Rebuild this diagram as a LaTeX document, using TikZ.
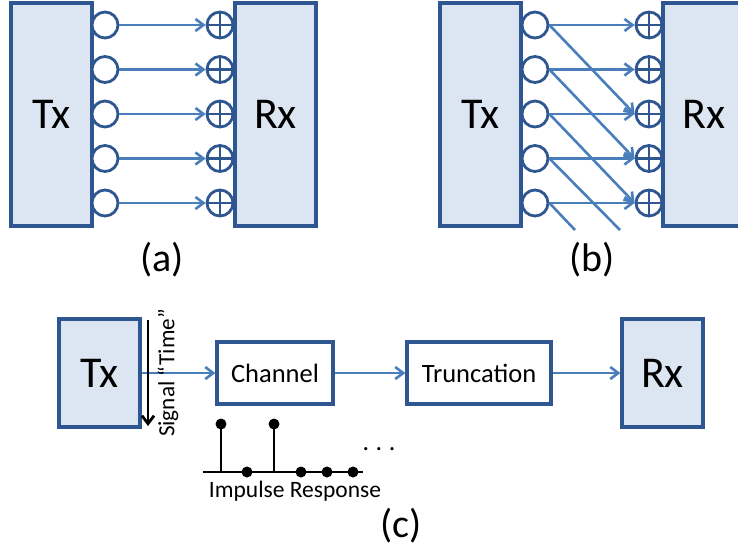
\documentclass[tikz,border=0pt]{standalone}
\usepackage{fontspec}
\setmainfont{Carlito}
\usetikzlibrary{arrows.meta}
\definecolor{bfill}{HTML}{DCE6F2}
\definecolor{bdraw}{HTML}{2E5690}
\definecolor{arr}{HTML}{4A7EBB}
\begin{document}
\begin{tikzpicture}[x=1pt,y=-1pt,
  bigbox/.style={draw=bdraw,fill=bfill,line width=3.2pt,minimum width=81pt,minimum height=223pt,inner sep=0pt,font=\fontsize{44}{46}\selectfont},
  cbox/.style={draw=bdraw,fill=bfill,line width=3.2pt,minimum width=81pt,minimum height=108pt,inner sep=0pt,font=\fontsize{44}{46}\selectfont},
  wbox/.style={draw=bdraw,fill=white,line width=3.2pt,minimum height=62pt,inner sep=0pt,font=\fontsize{26.5}{28}\selectfont},
  src/.style={circle,draw=bdraw,fill=white,line width=2.8pt,minimum size=26pt,inner sep=0pt},
  sum/.style={src,path picture={\draw[bdraw,line width=2.6pt] (path picture bounding box.north) -- (path picture bounding box.south) (path picture bounding box.west) -- (path picture bounding box.east);}},
  conn/.style={draw=arr,line width=2.6pt,-{Straight Barb[length=8pt,width=12pt,line width=2.6pt]}},
  dline/.style={draw=arr,line width=2.6pt},
  stem/.style={draw=black,line width=2.8pt},
  dot/.style={circle,fill=black,minimum size=11pt,inner sep=0pt},
  lab/.style={font=\fontsize{40}{42}\selectfont,inner sep=0pt}
]
\clip (0,0) rectangle (738,550);
\useasboundingbox (0,0) rectangle (738,550);
% ---------- (a)
\node[bigbox] (txa) at (51.5,114.5) {Tx};
\node[bigbox] (rxa) at (275.5,114.5) {Rx};
\foreach \i/\y in {1/25,2/69.5,3/114,4/158.5,5/203}{
  \node[src] (ca\i) at (105,\y) {};
  \node[sum] (pa\i) at (220,\y) {};
  \draw[conn] (ca\i.east) -- (pa\i.west);
}
\node[lab] (la) at (162,260) {(a)};
% ---------- (b)
\node[bigbox] (txb) at (480.5,114.5) {Tx};
\node[bigbox,minimum width=82pt,text width=82pt,align=center] (rxb) at (704,114.5) {Rx};
\foreach \i/\y in {1/25,2/69.5,3/114,4/158.5,5/203}{
  \node[src] (cb\i) at (535,\y) {};
  \node[sum] (pb\i) at (649,\y) {};
  \draw[conn] (cb\i.east) -- (pb\i.west);
}
\draw[conn] (cb1.east) -- (pb3.west);
\draw[conn] (cb2.east) -- (pb4.west);
\draw[conn] (cb3.east) -- (pb5.west);
\coordinate (e4) at (620,230);
\coordinate (e5) at (575,230);
\draw[dline] (cb4.east) -- (e4);
\draw[dline] (cb5.east) -- (e5);
\node[lab] (lb) at (592,260) {(b)};
% ---------- (c)
\node[cbox] (txc) at (99.5,373) {Tx};
\node[wbox,minimum width=116pt] (ch) at (275,373) {Channel};
\node[wbox,minimum width=144pt] (tr) at (479,373) {Truncation};
\node[cbox] (rxc) at (662.5,373) {Rx};
\draw[conn] (txc) -- (ch);
\draw[conn] (ch) -- (tr);
\draw[conn] (tr) -- (rxc);
\coordinate (st1) at (148,320);
\coordinate (st2) at (148,426);
\draw[black,line width=2.8pt,-{Straight Barb[length=8pt,width=12pt,line width=2.8pt]}] (st1) -- (st2);
\node[rotate=90,font=\fontsize{23.2}{25}\selectfont,inner sep=0pt] (sig) at (168,373) {Signal “Time”};
% impulse response
\coordinate (b0) at (203,472);
\coordinate (b1) at (363,472);
\draw[stem] (b0) -- (b1);
\node[dot] (d1) at (221,424) {};
\node[dot] (d2) at (274,424) {};
\coordinate (s1) at (221,472);
\coordinate (s2) at (274,472);
\draw[stem] (s1) -- (d1.center);
\draw[stem] (s2) -- (d2.center);
\node[dot] (d3) at (247,472) {};
\node[dot] (d4) at (301,472) {};
\node[dot] (d5) at (327,472) {};
\node[dot] (d6) at (353,472) {};
\node[font=\fontsize{26}{28}\selectfont,anchor=base,inner sep=0pt] (dots) at (379,450) {.\hspace{6.5pt}.\hspace{6.5pt}.};
\node[font=\fontsize{23.5}{25}\selectfont,anchor=base,inner sep=0pt] (ir) at (295,497) {Impulse Response};
\node[lab] (lc) at (401,526) {(c)};
\end{tikzpicture}
\end{document}
